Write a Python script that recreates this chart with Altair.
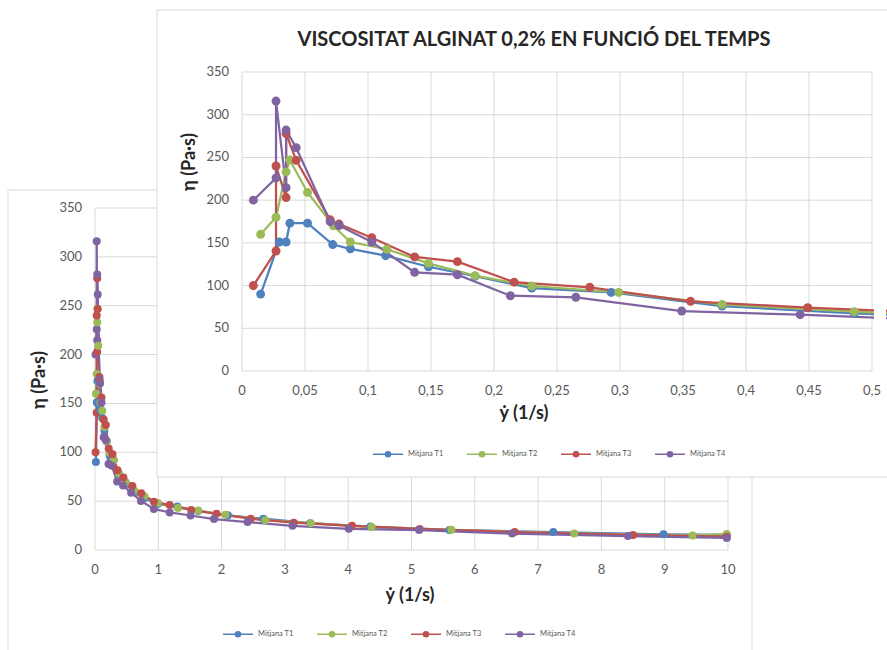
import altair as alt
import pandas as pd

# Series names and Excel-style colours
series_names = ["Mitjana T1", "Mitjana T2", "Mitjana T3", "Mitjana T4"]
series_colors = ["#4F81BD", "#9BBB59", "#C0504D", "#8064A2"]

# Shear rate (1/s) and viscosity (Pa·s) for each time
t1_rate = [0.0148, 0.0296, 0.035, 0.038, 0.052, 0.072, 0.086, 0.114, 0.148, 0.185, 0.230, 0.293,
           0.381, 0.486, 0.62, 0.78, 0.99, 1.30, 1.63, 2.10, 2.66, 3.40, 4.35, 5.60, 7.24, 8.98, 9.98]
t1_visc = [90, 151, 151, 173, 173, 148, 143, 135, 122, 111, 97, 92,
           76, 67.5, 59, 53, 47, 44.5, 40, 35.5, 32, 27.5, 24, 20.5, 18.3, 16, 15.5]

t2_rate = [0.0148, 0.027, 0.035, 0.038, 0.052, 0.0725, 0.086, 0.115, 0.148, 0.185, 0.230, 0.299,
           0.381, 0.486, 0.62, 0.78, 0.99, 1.31, 1.63, 2.06, 2.69, 3.41, 4.37, 5.63, 7.57, 9.44, 9.98]
t2_visc = [160, 180, 233, 247, 209, 170, 151, 142.5, 126, 111.6, 99.5, 92,
           78, 69.4, 61, 55, 48, 43, 40.3, 36, 30.5, 27.5, 23.5, 20.6, 16.9, 14.8, 16.5]

t3_rate = [0.009, 0.027, 0.027, 0.035, 0.035, 0.043, 0.070, 0.077, 0.103, 0.137, 0.171, 0.216, 0.276,
           0.356, 0.449, 0.59, 0.73, 0.93, 1.18, 1.52, 1.92, 2.46, 3.14, 4.06, 5.13, 6.63, 8.50, 9.98]
t3_visc = [100, 140.5, 240, 203, 278, 246.6, 177, 172, 156, 133.5, 128, 104, 98,
           81.6, 74.1, 65.5, 58, 49.5, 46, 41, 37, 32, 28, 24.7, 21.5, 18.3, 15.4, 13.6]

t4_rate = [0.009, 0.027, 0.027, 0.035, 0.035, 0.043, 0.070, 0.077, 0.103, 0.137, 0.171, 0.213, 0.265,
           0.349, 0.443, 0.57, 0.727, 0.93, 1.18, 1.51, 1.88, 2.41, 3.12, 4.01, 5.12, 6.59, 8.42, 9.98]
t4_visc = [200, 226, 316, 214.6, 282, 261.4, 174.8, 170.3, 151, 115.5, 112.7, 88.1, 86.3,
           70.2, 65.9, 58.7, 50.2, 42, 38.4, 35.3, 31.7, 28.6, 24.7, 21.7, 20.4, 16.8, 14.3, 12.4]

# Axis tick values of the two charts
full_rate_ticks = [0, 1, 2, 3, 4, 5, 6, 7, 8, 9, 10]
zoom_rate_ticks = [0, 0.05, 0.1, 0.15, 0.2, 0.25, 0.3, 0.35, 0.4, 0.45, 0.5]
visc_ticks = [0, 50, 100, 150, 200, 250, 300, 350]

title_text = "VISCOSITAT ALGINAT 0,2% EN FUNCIÓ DEL TEMPS"
x_title = "ẏ (1/s)"
y_title = "η (Pa·s)"

rows = []
for name, xs, ys in zip(series_names, [t1_rate, t2_rate, t3_rate, t4_rate],
                        [t1_visc, t2_visc, t3_visc, t4_visc]):
    for i, (a, b) in enumerate(zip(xs, ys)):
        rows.append({"serie": name, "rate": a, "visc": b, "ordre": i})
df = pd.DataFrame(rows)
one = pd.DataFrame({"k": [0]})

FONT = "Lato"
GRID = "#d9d9d9"
LABEL = "#595959"
TITLE = "#262626"
SYMBOL = "M-1,0H1M-0.17,0A0.17,0.17,0,1,0,0.17,0A0.17,0.17,0,1,0,-0.17,0Z"
# comma as decimal separator
COMMA = "replace(format(datum.t, '~g'), '.', ',')"


def legend(x, y):
    return alt.Legend(orient="none", legendX=x, legendY=y, direction="horizontal", title=None,
                      symbolType=SYMBOL, symbolSize=900, symbolStrokeWidth=1.5,
                      labelFont=FONT, labelFontSize=7.5, labelColor=LABEL, labelOffset=4,
                      columnPadding=20, padding=0, zindex=1)


def panel(x_scale, y_scale, x_ticks, leg, point_size, clip):
    """Grid, tick labels and series lines of one chart, all placed through its scales."""
    color = alt.Color("serie:N", scale=alt.Scale(domain=series_names, range=series_colors),
                      legend=leg)
    vgrid = alt.Chart(pd.DataFrame({"t": x_ticks})).mark_rule(color=GRID, strokeWidth=1).encode(
        x=alt.X("t:Q", scale=x_scale, axis=None),
        y=alt.Y(datum=0, axis=None), y2=alt.Y2(datum=350))
    hgrid = alt.Chart(pd.DataFrame({"t": visc_ticks})).mark_rule(color=GRID, strokeWidth=1).encode(
        y=alt.Y("t:Q", scale=y_scale, axis=None),
        x=alt.X(datum=x_ticks[0], axis=None), x2=alt.X2(datum=x_ticks[-1]))
    xlab = alt.Chart(pd.DataFrame({"t": x_ticks})).transform_calculate(lab=COMMA).mark_text(
        font=FONT, fontSize=13, color=LABEL, baseline="middle", align="center", dy=20
    ).encode(x=alt.X("t:Q", scale=x_scale, axis=None), y=alt.Y(datum=0, axis=None),
             text="lab:N")
    ylab = alt.Chart(pd.DataFrame({"t": visc_ticks})).mark_text(
        font=FONT, fontSize=13, color=LABEL, baseline="middle", align="right", dx=-13
    ).encode(y=alt.Y("t:Q", scale=y_scale, axis=None), x=alt.X(datum=0, axis=None),
             text="t:Q")
    lines = alt.Chart(df).mark_line(
        strokeWidth=2.25, clip=clip,
        point=alt.OverlayMarkDef(filled=True, size=point_size, opacity=1, clip=clip)
    ).encode(
        x=alt.X("rate:Q", scale=x_scale, axis=None),
        y=alt.Y("visc:Q", scale=y_scale, axis=None),
        color=color,
        order=alt.Order("ordre:Q"),
    )
    return [vgrid, hgrid, xlab, ylab, lines]


def label(text, x, y, angle=0, size=18):
    return alt.Chart(one).mark_text(
        text=text, font=FONT, fontSize=size, fontWeight="bold", color=TITLE,
        align="center", baseline="middle", angle=angle
    ).encode(x=alt.value(x), y=alt.value(y))


# Full-range chart (behind)
back_x = alt.Scale(domain=[0, 10], range=[95, 728], nice=False)
back_y = alt.Scale(domain=[0, 350], range=[550, 208], nice=False)
back_box = alt.Chart(one).mark_rect(fillOpacity=0, stroke=GRID, strokeWidth=1).encode(
    x=alt.value(8), x2=alt.value(752), y=alt.value(190), y2=alt.value(700))
back = alt.layer(
    back_box,
    *panel(back_x, back_y, full_rate_ticks, legend(222, 618), 64, False),
    label(x_title, 410, 596),
    label(y_title, 40, 380, angle=270),
)

# Zoomed chart (in front)
front_x = alt.Scale(domain=[0, 0.5], range=[242, 872], nice=False)
front_y = alt.Scale(domain=[0, 350], range=[371, 72], nice=False)
front_box = alt.Chart(one).mark_rect(fill="white", stroke=GRID, strokeWidth=1).encode(
    x=alt.value(157), x2=alt.value(900), y=alt.value(10), y2=alt.value(477))
edge_mask = alt.Chart(one).mark_rect(fill="white").encode(
    x=alt.value(874), x2=alt.value(886), y=alt.value(60), y2=alt.value(370))
front = alt.layer(
    front_box,
    label(title_text, 534, 40, size=20),
    *panel(front_x, front_y, zoom_rate_ticks, legend(372, 438), 80, True),
    edge_mask,
    label(x_title, 524, 414),
    label(y_title, 190, 162, angle=270),
)

chart = alt.layer(back, front).resolve_scale(
    x="independent", y="independent", color="independent"
).properties(
    width=887, height=650, autosize=alt.AutoSizeParams(type="none"), padding=0,
    background="white"
).configure_view(stroke=None)

chart.save("out.html", embed_options={"renderer": "svg", "actions": False})
